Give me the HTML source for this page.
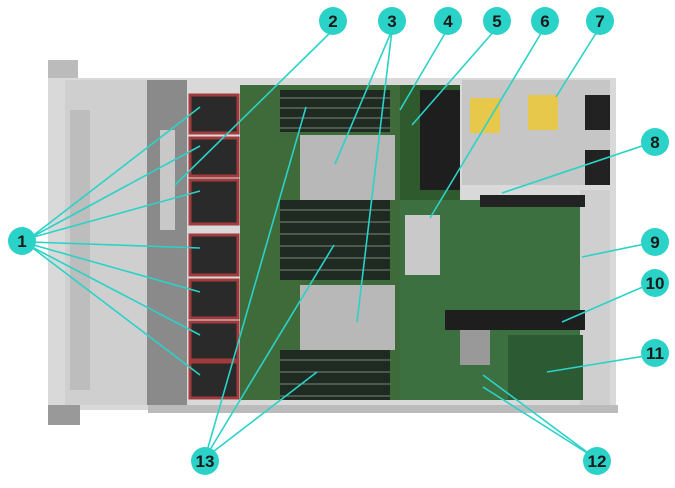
<!DOCTYPE html>
<html><head><meta charset="utf-8"><style>
html,body{margin:0;padding:0;background:#fff;}
svg{display:block}
</style></head><body>
<svg width="675" height="488" viewBox="0 0 675 488" xmlns="http://www.w3.org/2000/svg">
<!-- chassis -->
<rect x="48" y="78" width="568" height="332" fill="#d9d9d9"/>
<rect x="48" y="60" width="30" height="18" fill="#bbb"/>
<rect x="48" y="405" width="32" height="20" fill="#999"/>
<rect x="65" y="80" width="82" height="325" fill="#cfcfcf"/>
<rect x="70" y="110" width="20" height="280" fill="#bdbdbd"/>
<rect x="147" y="80" width="40" height="325" fill="#8a8a8a"/>
<rect x="160" y="130" width="15" height="100" fill="#c8c8c8"/>
<!-- fans -->
<g fill="#2a2a2a" stroke="#a23b3b" stroke-width="3">
<rect x="190" y="95" width="48" height="38"/>
<rect x="190" y="138" width="48" height="38"/>
<rect x="190" y="180" width="48" height="44"/>
<rect x="190" y="235" width="48" height="40"/>
<rect x="190" y="280" width="48" height="38"/>
<rect x="190" y="322" width="48" height="38"/>
<rect x="190" y="362" width="48" height="36"/>
</g>
<!-- motherboard -->
<rect x="240" y="85" width="160" height="315" fill="#3f6a3a"/>
<rect x="400" y="200" width="200" height="200" fill="#3d7040"/>
<rect x="400" y="85" width="60" height="115" fill="#2f5a2e"/>
<rect x="420" y="90" width="40" height="100" fill="#1e1e1e"/>
<!-- DIMMs -->
<g fill="#1e2a22">
<rect x="280" y="90" width="110" height="42"/>
<rect x="280" y="200" width="110" height="80"/>
<rect x="280" y="350" width="110" height="50"/>
</g>
<g stroke="#7a8a7a" stroke-width="1">
<line x1="280" y1="98" x2="390" y2="98"/><line x1="280" y1="108" x2="390" y2="108"/><line x1="280" y1="118" x2="390" y2="118"/><line x1="280" y1="128" x2="390" y2="128"/>
<line x1="280" y1="210" x2="390" y2="210"/><line x1="280" y1="222" x2="390" y2="222"/><line x1="280" y1="234" x2="390" y2="234"/><line x1="280" y1="246" x2="390" y2="246"/><line x1="280" y1="258" x2="390" y2="258"/><line x1="280" y1="270" x2="390" y2="270"/>
<line x1="280" y1="360" x2="390" y2="360"/><line x1="280" y1="372" x2="390" y2="372"/><line x1="280" y1="384" x2="390" y2="384"/><line x1="280" y1="396" x2="390" y2="396"/>
</g>
<!-- heatsinks -->
<rect x="300" y="135" width="95" height="65" fill="#b8b8b8"/>
<rect x="300" y="285" width="95" height="65" fill="#b8b8b8"/>
<!-- PSU -->
<rect x="462" y="80" width="148" height="105" fill="#c6c6c6"/>
<rect x="470" y="98" width="30" height="35" fill="#e8c84a"/>
<rect x="528" y="95" width="30" height="35" fill="#e8c84a"/>
<rect x="585" y="95" width="25" height="35" fill="#222"/>
<rect x="585" y="150" width="25" height="35" fill="#222"/>
<rect x="580" y="190" width="30" height="215" fill="#cfcfcf"/>
<!-- misc -->
<rect x="405" y="215" width="35" height="60" fill="#c9c9c9"/>
<rect x="480" y="195" width="105" height="12" fill="#222"/>
<rect x="445" y="310" width="140" height="20" fill="#1e1e1e"/>
<rect x="508" y="335" width="75" height="65" fill="#2c5a33"/>
<rect x="460" y="330" width="30" height="35" fill="#999"/>
<rect x="148" y="405" width="470" height="8" fill="#bbb"/>
<!-- leader lines -->
<g stroke="#2ad2c8" stroke-width="1.6" fill="none">
<line x1="30" y1="238" x2="200" y2="107"/>
<line x1="30" y1="238" x2="200" y2="146"/>
<line x1="30" y1="238" x2="200" y2="191"/>
<line x1="30" y1="242" x2="200" y2="248"/>
<line x1="30" y1="244" x2="200" y2="292"/>
<line x1="30" y1="246" x2="200" y2="335"/>
<line x1="30" y1="246" x2="200" y2="375"/>
<line x1="333" y1="30" x2="175" y2="185"/>
<line x1="392" y1="30" x2="335" y2="164"/>
<line x1="392" y1="30" x2="357" y2="322"/>
<line x1="447" y1="30" x2="400" y2="110"/>
<line x1="495" y1="30" x2="412" y2="125"/>
<line x1="543" y1="30" x2="430" y2="218"/>
<line x1="598" y1="30" x2="556" y2="97"/>
<line x1="645" y1="145" x2="502" y2="193"/>
<line x1="645" y1="244" x2="582" y2="257"/>
<line x1="645" y1="286" x2="562" y2="322"/>
<line x1="645" y1="356" x2="547" y2="372"/>
<line x1="595" y1="458" x2="483" y2="375"/>
<line x1="595" y1="458" x2="483" y2="387"/>
<line x1="205" y1="458" x2="306" y2="107"/>
<line x1="205" y1="458" x2="334" y2="245"/>
<line x1="205" y1="458" x2="317" y2="372"/>
</g>
<!-- callouts -->
<g fill="#2ad2c8">
<circle cx="22" cy="241" r="14"/>
<circle cx="333" cy="21" r="14"/>
<circle cx="392" cy="21" r="14"/>
<circle cx="448" cy="21" r="14"/>
<circle cx="497" cy="21" r="14"/>
<circle cx="545" cy="21" r="14"/>
<circle cx="600" cy="21" r="14"/>
<circle cx="655" cy="142" r="14"/>
<circle cx="655" cy="242" r="14"/>
<circle cx="655" cy="283" r="14"/>
<circle cx="655" cy="353" r="14"/>
<circle cx="597" cy="461" r="14"/>
<circle cx="205" cy="461" r="14"/>
</g>
<g font-family="Liberation Sans Narrow, Liberation Sans, sans-serif" font-size="17" font-weight="bold" fill="#1a1a1a" text-anchor="middle">
<text x="22" y="247">1</text>
<text x="333" y="27">2</text>
<text x="392" y="27">3</text>
<text x="448" y="27">4</text>
<text x="497" y="27">5</text>
<text x="545" y="27">6</text>
<text x="600" y="27">7</text>
<text x="655" y="148">8</text>
<text x="655" y="248">9</text>
<text x="655" y="289">10</text>
<text x="655" y="359">11</text>
<text x="597" y="467">12</text>
<text x="205" y="467">13</text>
</g>
</svg>
</body></html>
